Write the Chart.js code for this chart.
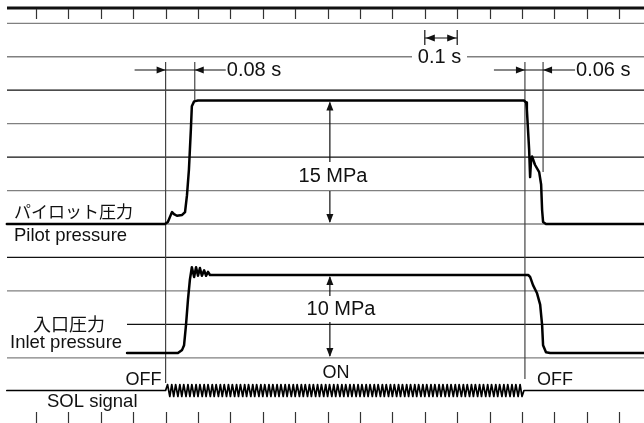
<!DOCTYPE html>
<html>
<head>
<meta charset="utf-8">
<script src="https://cdn.jsdelivr.net/npm/chart.js@4.4.1/dist/chart.umd.min.js"></script>
<style>
  html, body { margin: 0; padding: 0; background: #fff; }
  #wrap { width: 644px; height: 423px; }
</style>
</head>
<body>
<div id="wrap"><canvas id="myChart"></canvas></div>
<script>
// time in ms, solenoid switched on at t = 0
const tickTimes = [-400, -300, -200, -100, 0, 100, 200, 300, 400, 500, 600, 700, 800, 900, 1000, 1100, 1200, 1300, 1400];

// pilot pressure trace (MPa)
const pilotTime = [-490, -2, 7, 17, 20, 26, 35, 51, 60, 66, 72, 78, 81, 88, 100,
  1106, 1113, 1115, 1122, 1125, 1128, 1131, 1140, 1153, 1159, 1162, 1165, 1174, 1477];
const pilotMPa = [0, 0, 0.25, 1.2, 1.45, 1.2, 1.0, 1.1, 1.45, 3.5, 6.6, 11.5, 14.3, 14.9, 15.0,
  15.0, 14.75, 13.9, 9.0, 5.7, 7.8, 8.2, 7.2, 6.3, 4.8, 1.7, 0.25, 0, 0];

// inlet pressure trace (MPa)
const inletTime = [-119, 38, 51, 57, 63, 69, 75, 81, 88, 94, 100, 106, 112, 119, 125, 131, 137,
  1119, 1125, 1134, 1146, 1156, 1162, 1165, 1174, 1187, 1477];
const inletMPa = [0, 0, 0.4, 1.0, 3.6, 6.8, 9.4, 11.0, 9.75, 11.0, 9.9, 10.9, 9.9, 10.6, 9.9, 10.4, 10.0,
  10.0, 9.75, 8.7, 7.7, 6.2, 3.6, 1.0, 0.1, 0, 0];

// SOL signal (ripple while ON)
const solTime = [-490,
  0, 6, 13, 19, 25, 31, 38, 44, 50, 56, 63, 69, 75, 81, 88, 94,
  100, 106, 113, 119, 125, 131, 138, 144, 150, 156, 163, 169, 175, 181, 188, 194,
  200, 206, 213, 219, 225, 231, 238, 244, 250, 256, 263, 269, 275, 281, 288, 294,
  300, 306, 313, 319, 325, 331, 338, 344, 350, 356, 363, 369, 375, 381, 388, 394,
  400, 406, 413, 419, 425, 431, 438, 444, 450, 456, 463, 469, 475, 481, 488, 494,
  500, 506, 513, 519, 525, 531, 538, 544, 550, 556, 563, 569, 575, 581, 588, 594,
  600, 606, 613, 619, 625, 631, 638, 644, 650, 656, 663, 669, 675, 681, 688, 694,
  700, 706, 713, 719, 725, 731, 738, 744, 750, 756, 763, 769, 775, 781, 788, 794,
  800, 806, 813, 819, 825, 831, 838, 844, 850, 856, 863, 869, 875, 881, 888, 894,
  900, 906, 913, 919, 925, 931, 938, 944, 950, 956, 963, 969, 975, 981, 988, 994,
  1000, 1006, 1013, 1019, 1025, 1031, 1038, 1044, 1050, 1056, 1063, 1069, 1075, 1081, 1088, 1094,
  1100, 1106, 1477];
const solLevel = [0,
  0, 1, -1, 1, -1, 1, -1, 1, -1, 1, -1, 1, -1, 1, -1, 1,
  -1, 1, -1, 1, -1, 1, -1, 1, -1, 1, -1, 1, -1, 1, -1, 1,
  -1, 1, -1, 1, -1, 1, -1, 1, -1, 1, -1, 1, -1, 1, -1, 1,
  -1, 1, -1, 1, -1, 1, -1, 1, -1, 1, -1, 1, -1, 1, -1, 1,
  -1, 1, -1, 1, -1, 1, -1, 1, -1, 1, -1, 1, -1, 1, -1, 1,
  -1, 1, -1, 1, -1, 1, -1, 1, -1, 1, -1, 1, -1, 1, -1, 1,
  -1, 1, -1, 1, -1, 1, -1, 1, -1, 1, -1, 1, -1, 1, -1, 1,
  -1, 1, -1, 1, -1, 1, -1, 1, -1, 1, -1, 1, -1, 1, -1, 1,
  -1, 1, -1, 1, -1, 1, -1, 1, -1, 1, -1, 1, -1, 1, -1, 1,
  -1, 1, -1, 1, -1, 1, -1, 1, -1, 1, -1, 1, -1, 1, -1, 1,
  -1, 1, -1, 1, -1, 1, -1, 1, -1, 1, -1, 1, -1, 1, -1, 1,
  -1, 0, 0];

// event marks (ms)
const tOn = 0, tPilotUp = 90, tOff = 1109, tPilotDown = 1165;

const INK = '#111';
const GRAY = '#808080';
const LATIN = '"Liberation Sans", Arial, sans-serif';
const CJK = '"Noto Sans CJK JP", sans-serif';

function pts(xs, ys) {
  return xs.map((x, i) => ({ x: x, y: ys[i] }));
}

// put a value of 0 at a given pixel row with a given pixels-per-unit
function axisRange(zeroPx, pxPerUnit) {
  const max = zeroPx / pxPerUnit;
  return { min: max - 423 / pxPerUnit, max: max };
}

function line(ctx, x1, y1, x2, y2, color, w) {
  ctx.beginPath();
  ctx.moveTo(x1, y1);
  ctx.lineTo(x2, y2);
  ctx.strokeStyle = color;
  ctx.lineWidth = w;
  ctx.stroke();
}

function head(ctx, x, y, dx, dy) {
  const len = 9, half = 3.5;
  ctx.beginPath();
  ctx.moveTo(x, y);
  ctx.lineTo(x - dx * len - dy * half, y - dy * len + dx * half);
  ctx.lineTo(x - dx * len + dy * half, y - dy * len - dx * half);
  ctx.closePath();
  ctx.fillStyle = INK;
  ctx.fill();
}

function text(ctx, s, x, y, font, align) {
  ctx.font = font;
  ctx.fillStyle = INK;
  ctx.textAlign = align || 'left';
  ctx.textBaseline = 'middle';
  ctx.fillText(s, x, y);
}

const paper = {
  id: 'paper',
  beforeDraw(chart) {
    const ctx = chart.ctx;
    ctx.save();
    ctx.fillStyle = '#fff';
    ctx.fillRect(0, 0, chart.width, chart.height);
    ctx.restore();
  },
  beforeDatasetsDraw(chart) {
    const ctx = chart.ctx;
    const xs = chart.scales.x;
    const W = chart.width;
    ctx.save();

    // recorder grid
    const rows = [
      { y: 23.3, c: GRAY }, { y: 56.75, c: GRAY, gap: [412, 467] }, { y: 90.2, c: INK },
      { y: 123.65, c: GRAY }, { y: 157.1, c: INK }, { y: 190.55, c: GRAY },
      { y: 224, c: GRAY }, { y: 257.45, c: INK }, { y: 290.9, c: GRAY },
      { y: 324.35, c: INK, x0: 127 }, { y: 357.8, c: GRAY }
    ];
    rows.forEach(r => {
      const x0 = r.x0 || 7;
      if (r.gap) {
        line(ctx, x0, r.y, r.gap[0], r.y, r.c, 1.3);
        line(ctx, r.gap[1], r.y, W, r.y, r.c, 1.3);
      } else {
        line(ctx, x0, r.y, W, r.y, r.c, 1.3);
      }
    });
    line(ctx, 7, 8, W, 8, INK, 3);

    // time ticks, top and bottom
    tickTimes.forEach(t => {
      const x = Math.round(xs.getPixelForValue(t)) + 0.5;
      line(ctx, x, 9, x, 19, '#333', 1.2);
      line(ctx, x, 412, x, 423, '#333', 1.2);
    });

    // event verticals
    const xOn = xs.getPixelForValue(tOn);
    const xUp = xs.getPixelForValue(tPilotUp);
    const xOff = xs.getPixelForValue(tOff);
    const xDown = xs.getPixelForValue(tPilotDown);
    line(ctx, xOn, 62, xOn, 383, '#444', 1.2);
    line(ctx, xUp, 62, xUp, 100, '#444', 1.2);
    line(ctx, xOff, 62, xOff, 379, '#444', 1.2);
    line(ctx, xDown, 62, xDown, 172, '#444', 1.2);

    // delay arrows
    line(ctx, xOn - 31, 70, xUp + 31, 70, INK, 1.2);
    head(ctx, xOn, 70, 1, 0);
    head(ctx, xUp, 70, -1, 0);
    line(ctx, xOff - 31, 70, xDown + 32, 70, INK, 1.2);
    head(ctx, xOff, 70, 1, 0);
    head(ctx, xDown, 70, -1, 0);

    // 0.1 s scale mark
    const xa = xs.getPixelForValue(800), xb = xs.getPixelForValue(900);
    line(ctx, xa, 30, xa, 45, INK, 1.2);
    line(ctx, xb, 30, xb, 45, INK, 1.2);
    line(ctx, xa, 38, xb, 38, INK, 1.2);
    head(ctx, xa + 1, 38, -1, 0);
    head(ctx, xb - 1, 38, 1, 0);

    // pressure span arrows
    const yP = chart.scales.yP, yI = chart.scales.yI;
    const xm = xs.getPixelForValue(507);
    const p15 = yP.getPixelForValue(15), p0 = yP.getPixelForValue(0);
    line(ctx, xm, p15 + 2, xm, 162, INK, 1.2);
    line(ctx, xm, 191, xm, p0 - 2, INK, 1.2);
    head(ctx, xm, p15 + 1, 0, -1);
    head(ctx, xm, p0 - 1, 0, 1);
    const i10 = yI.getPixelForValue(10);
    line(ctx, xm, i10 + 2, xm, 296, INK, 1.2);
    line(ctx, xm, 322, xm, 356, INK, 1.2);
    head(ctx, xm, i10 + 1, 0, -1);
    head(ctx, xm, 357, 0, 1);

    ctx.restore();
  },
  afterDatasetsDraw(chart) {
    const ctx = chart.ctx;
    const xs = chart.scales.x;
    const xOn = xs.getPixelForValue(tOn);
    const xOff = xs.getPixelForValue(tOff);
    const xDown = xs.getPixelForValue(tPilotDown);
    const xUp = xs.getPixelForValue(tPilotUp);
    ctx.save();
    text(ctx, '0.08 s', xUp + 32, 70, '20px ' + LATIN);
    text(ctx, '0.06 s', xDown + 33, 70, '20px ' + LATIN);
    text(ctx, '0.1 s', 439.5, 57, '20px ' + LATIN, 'center');
    text(ctx, '15 MPa', 333, 176, '20px ' + LATIN, 'center');
    text(ctx, '10 MPa', 341, 309, '20px ' + LATIN, 'center');
    text(ctx, 'ON', 336, 373, '18px ' + LATIN, 'center');
    text(ctx, 'OFF', xOn - 4, 380, '18px ' + LATIN, 'right');
    text(ctx, 'OFF', xOff + 12, 380, '18px ' + LATIN);
    text(ctx, 'パイロット圧力', 14, 212, '17px ' + CJK);
    text(ctx, 'Pilot pressure', 14, 236, '18.5px ' + LATIN);
    text(ctx, '入口圧力', 33, 324, '18px ' + CJK);
    text(ctx, 'Inlet pressure', 10, 343, '18.5px ' + LATIN);
    text(ctx, 'SOL signal', 47, 402, '18.5px ' + LATIN);
    ctx.restore();
  }
};

const pRange = axisRange(224, 8.23);
const iRange = axisRange(353, 7.8);
const sRange = axisRange(390.5, 6);

const ctx = document.getElementById('myChart').getContext('2d');
const chart = new Chart(ctx, {
  type: 'line',
  data: {
    datasets: [
      {
        label: 'Pilot pressure',
        data: pts(pilotTime, pilotMPa),
        yAxisID: 'yP',
        borderColor: '#000',
        borderWidth: 2.5,
      },
      {
        label: 'Inlet pressure',
        data: pts(inletTime, inletMPa),
        yAxisID: 'yI',
        borderColor: '#000',
        borderWidth: 2.5,
      },
      {
        label: 'SOL signal',
        data: pts(solTime, solLevel),
        yAxisID: 'yS',
        borderColor: '#000',
        borderWidth: 1.7,
      }
    ]
  },
  options: {
    responsive: true,
    maintainAspectRatio: false,
    animation: false,
    layout: { padding: 0 },
    elements: {
      point: { radius: 0 },
      line: { tension: 0, borderJoinStyle: 'round', borderCapStyle: 'round' }
    },
    plugins: { legend: { display: false }, tooltip: { enabled: false } },
    scales: {
      x: { type: 'linear', min: -511.1, max: 1476.5, display: false },
      yP: { type: 'linear', min: pRange.min, max: pRange.max, display: false },
      yI: { type: 'linear', min: iRange.min, max: iRange.max, display: false },
      yS: { type: 'linear', min: sRange.min, max: sRange.max, display: false }
    }
  },
  plugins: [paper]
});
</script>
</body>
</html>
